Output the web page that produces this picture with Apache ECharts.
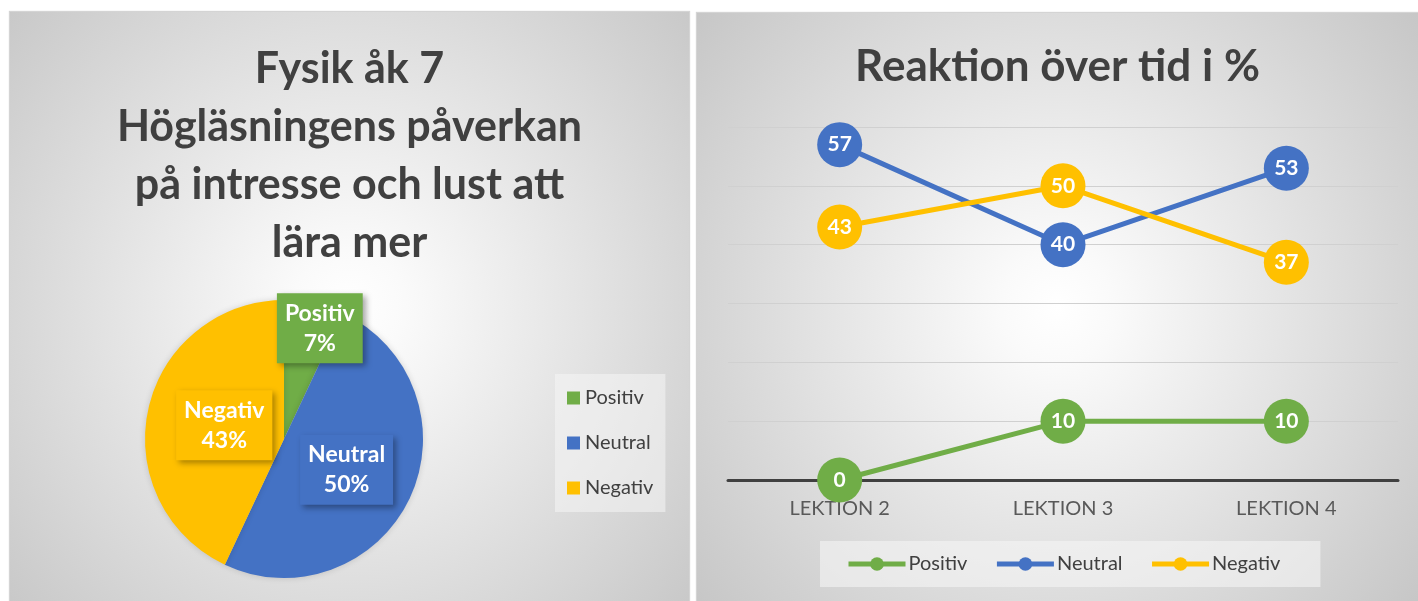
<!DOCTYPE html>
<html>
<head>
<meta charset="utf-8">
<script src="https://cdn.jsdelivr.net/npm/echarts@6/dist/echarts.min.js"></script>
<style>
  html, body { margin: 0; padding: 0; background: #fff; }
  .panel { position: absolute; box-shadow: 0 0 1px 1px #d4d4d4; }
  #pie { left: 10px; top: 12px; width: 679px; height: 589px; }
  #line { left: 697px; top: 13px; width: 721px; height: 588px; }
</style>
</head>
<body>
<div id="pie" class="panel"></div>
<div id="line" class="panel"></div>
<script>
// pie data
const pieNames = ['Positiv', 'Neutral', 'Negativ'];
const pieValues = [7, 50, 43];

// line data
const lessons = ['LEKTION 2', 'LEKTION 3', 'LEKTION 4'];
const positivValues = [0, 10, 10];
const neutralValues = [57, 40, 53];
const negativValues = [43, 50, 37];

const GREEN = '#70AD47';
const BLUE = '#4472C4';
const YELLOW = '#FFC000';
const TEXT = '#404040';
const FONT = 'Lato, "Open Sans", sans-serif';

function bg() {
  return new echarts.graphic.RadialGradient(0.5, 0.5, 0.8, [
    { offset: 0, color: '#ffffff' },
    { offset: 0.12, color: '#fafafa' },
    { offset: 1, color: '#c6c6c6' }
  ]);
}

//label offsets so boxes sit like in Excel's best fit
const pieColors = [GREEN, BLUE, YELLOW];
const pieOffsets = [[20, -40], [-3, 0], [11, 2]];

const pieChart = echarts.init(document.getElementById('pie'));
pieChart.setOption({
  backgroundColor: bg(),
  textStyle: { fontFamily: FONT },
  title: {
    text: 'Fysik åk 7\nHögläsningens påverkan\npå intresse och lust att\nlära mer',
    left: 'center',
    top: 23,
    textStyle: { fontSize: 43, fontWeight: 'bold', color: TEXT, lineHeight: 58, fontFamily: FONT }
  },
  legend: {
    orient: 'vertical',
    left: 545,
    top: 362,
    padding: [14, 12, 14, 12],
    backgroundColor: 'rgba(245,245,245,0.55)',
    itemWidth: 13,
    itemHeight: 13,
    itemGap: 25,
    icon: 'rect',
    textStyle: { fontSize: 20, color: TEXT, fontFamily: FONT },
    data: pieNames
  },
  series: [{
    type: 'pie',
    center: [274, 427],
    radius: 139,
    startAngle: 90,
    color: pieColors,
    itemStyle: { shadowBlur: 6, shadowColor: 'rgba(0,0,0,0.15)' },
    label: {
      position: 'inside',
      formatter: '{b}\n{c}%',
      color: '#fff',
      fontSize: 23,
      fontWeight: 'bold',
      lineHeight: 30,
      padding: [5, 8],
      shadowBlur: 6,
      shadowOffsetX: 3,
      shadowOffsetY: 3,
      shadowColor: 'rgba(0,0,0,0.35)',
      fontFamily: FONT
    },
    labelLine: { show: false },
    emphasis: { disabled: true },
    data: pieNames.map((n, i) => ({
      name: n,
      value: pieValues[i],
      label: { offset: pieOffsets[i], backgroundColor: pieColors[i] }
    }))
  }]
});

const lineChart = echarts.init(document.getElementById('line'));
function lineSeries(name, values, color) {
  return {
    name: name,
    type: 'line',
    data: values,
    color: color,
    symbol: 'circle',
    symbolSize: 45,
    lineStyle: { width: 5, color: color },
    itemStyle: { color: color },
    label: {
      show: true,
      position: 'inside',
      color: '#fff',
      fontSize: 21,
      fontWeight: 'bold',
      fontFamily: FONT
    },
    emphasis: { disabled: true }
  };
}

lineChart.setOption({
  backgroundColor: bg(),
  textStyle: { fontFamily: FONT },
  title: {
    text: 'Reaktion över tid i %',
    left: 'center',
    top: 27,
    textStyle: { fontSize: 44, fontWeight: 'bold', color: TEXT, fontFamily: FONT }
  },
  legend: {
    left: 123,
    top: 528,
    padding: [13, 40, 13, 26],
    backgroundColor: 'rgba(245,245,245,0.6)',
    itemWidth: 57,
    itemHeight: 17,
    itemGap: 27,
    lineStyle: { width: 5 },
    textStyle: { fontSize: 20, color: TEXT, fontFamily: FONT, padding: [0, 0, 0, -2] },
    data: ['Positiv', 'Neutral', 'Negativ']
  },
  grid: { left: 31, right: 20, top: 114, bottom: 121 },
  xAxis: {
    type: 'category',
    data: lessons,
    axisLine: { lineStyle: { color: '#404040', width: 3 } },
    axisTick: { show: false },
    axisLabel: { fontSize: 20, color: '#595959', margin: 19, fontFamily: FONT }
  },
  yAxis: {
    type: 'value',
    min: 0,
    max: 60,
    interval: 10,
    axisLabel: { show: false },
    axisLine: { show: false },
    axisTick: { show: false },
    splitLine: { lineStyle: { color: '#d0d0d0', width: 1 } }
  },
  series: [
    lineSeries('Positiv', positivValues, GREEN),
    lineSeries('Neutral', neutralValues, BLUE),
    lineSeries('Negativ', negativValues, YELLOW)
  ]
});
</script>
</body>
</html>
